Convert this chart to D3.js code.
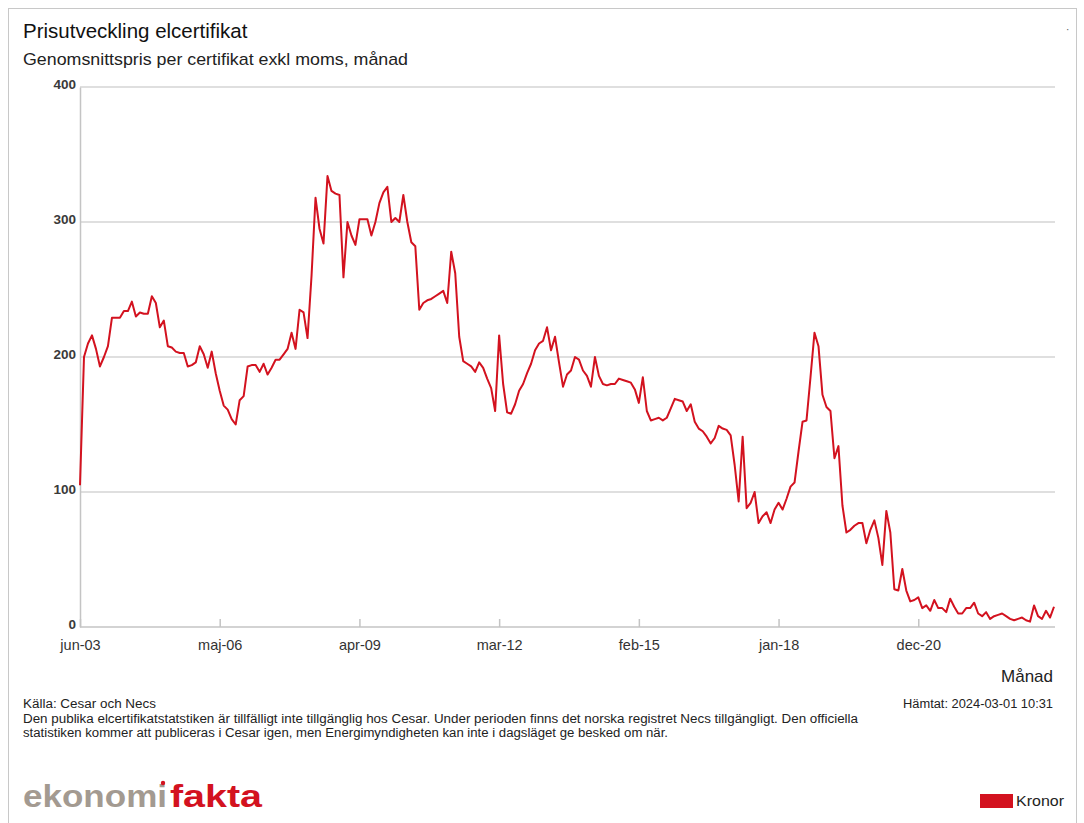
<!DOCTYPE html>
<html><head><meta charset="utf-8">
<script src="https://cdn.jsdelivr.net/npm/d3@7"></script>
<style>
html,body{margin:0;padding:0;background:#fff;}
svg{display:block;font-family:"Liberation Sans",Arial,sans-serif;}
</style></head><body>
<svg id="c" width="1084" height="823"></svg>
<script>
// Monthly average price (SEK), starting jun-03
const startYear = 2003, startMonth = 5; // June (0-based)
const prices = [
105,200,210,216,206,193,200,208,229,229,229,234,234,241,230,233,232,232,245,240,
222,227,208,207,204,203,203,193,194,196,208,202,192,204,188,175,164,161,154,150,
168,171,193,194,194,189,195,187,192,198,198,202,206,218,206,235,233,214,260,318,
295,284,334,323,321,320,259,300,290,283,302,302,302,290,300,314,322,326,300,303,
300,320,300,285,282,235,240,242,243,245,247,249,240,278,262,215,197,195,193,189,
196,192,184,177,160,216,180,159,158,165,175,180,188,195,205,210,212,222,205,215,
196,178,187,190,200,198,190,186,178,200,186,180,179,180,180,184,183,182,181,176,
166,185,160,153,154,155,153,155,162,169,168,167,160,165,152,147,145,141,136,140,
149,147,146,142,120,93,141,88,92,100,77,82,85,77,87,92,87,95,104,107,
130,152,153,185,218,208,172,163,160,125,134,90,70,72,75,77,77,62,72,79,
66,46,86,70,28,27,43,27,19,20,22,14,16,12,20,14,14,11,21,15,
10,10,14,14,18,10,8,11,6,8,9,10,8,6,5,6,7,5,4,16,
8,6,12,7,15
];
const monthNames = ["jan","feb","mar","apr","maj","jun","jul","aug","sep","okt","nov","dec"];
const xTickIdx = [0,35,70,105,140,175,210];
const yTicks = [0,100,200,300,400];

const labelOf = i => {
  const m = startMonth + i;
  const y = startYear + Math.floor(m/12);
  return monthNames[m%12] + "-" + String(y%100).padStart(2,"0");
};

const svg = d3.select("#c");
// outer frame
svg.append("rect").attr("x",8.5).attr("y",8.5).attr("width",1068).attr("height",830)
  .attr("fill","none").attr("stroke","#c8c8c8");

svg.append("text").attr("x",23).attr("y",38).attr("font-size",20.5).attr("fill","#111")
  .text("Prisutveckling elcertifikat");
svg.append("text").attr("x",23).attr("y",65).attr("font-size",17).attr("fill","#222")
  .attr("textLength",385).attr("lengthAdjust","spacingAndGlyphs")
  .text("Genomsnittspris per certifikat exkl moms, månad");
svg.append("text").attr("x",1066).attr("y",33).attr("font-size",10).attr("fill","#555").text("·");

const x = d3.scaleLinear().domain([0, prices.length-1]).range([80,1054]);
const y = d3.scaleLinear().domain([0,400]).range([627,87]);

// grid
const g = svg.append("g");
g.selectAll("line.grid").data(yTicks.filter(d=>d>0)).join("line")
  .attr("x1",80).attr("x2",1055).attr("y1",d=>y(d)).attr("y2",d=>y(d))
  .attr("stroke","#d4d4d4").attr("stroke-width",1.5);

// y axis
const yAxis = svg.append("g").attr("transform","translate(80,0)")
  .call(d3.axisLeft(y).tickValues(yTicks).tickSize(0).tickPadding(4));
yAxis.select(".domain").attr("stroke","#c4c4c4").attr("stroke-width",1.5);
yAxis.selectAll("text").attr("font-size",13.5).attr("font-weight","bold").attr("fill","#3a3a3a").attr("font-family","Liberation Sans, Arial").attr("dy","0.1em");

// x axis
const xAxis = svg.append("g").attr("transform","translate(0,627)")
  .call(d3.axisBottom(x).tickValues(xTickIdx).tickFormat(labelOf).tickSizeInner(-8).tickSizeOuter(0).tickPadding(13));
xAxis.select(".domain").attr("stroke","#c4c4c4").attr("stroke-width",1.5).attr("d","M80,0H1055");
xAxis.selectAll(".tick line").attr("stroke","#c4c4c4").attr("stroke-width",1.5);
xAxis.selectAll("text").attr("font-size",14.5).attr("fill","#333").attr("font-family","Liberation Sans, Arial");

// line
const line = d3.line().x((d,i)=>x(i)).y(d=>y(d));
svg.append("path").datum(prices).attr("d",line)
  .attr("fill","none").attr("stroke","#d3121f").attr("stroke-width",2).attr("stroke-linejoin","round");

svg.append("text").attr("x",1053).attr("y",682).attr("text-anchor","end").attr("font-size",17).attr("fill","#222").text("Månad");

const notes = [
 "Källa: Cesar och Necs",
 "Den publika elcertifikatstatstiken är tillfälligt inte tillgänglig hos Cesar. Under perioden finns det norska registret Necs tillgängligt. Den officiella",
 "statistiken kommer att publiceras i Cesar igen, men Energimyndigheten kan inte i dagsläget ge besked om när."
];
const noteLen = [133, 835, 645];
svg.selectAll("text.note").data(notes).join("text").attr("class","note")
  .attr("x",23).attr("y",(d,i)=>708+i*14.5).attr("font-size",12).attr("fill","#222")
  .attr("textLength",(d,i)=>noteLen[i]).attr("lengthAdjust","spacingAndGlyphs").text(d=>d);
svg.append("text").attr("x",903).attr("y",708).attr("font-size",12).attr("fill","#222")
  .attr("textLength",150).attr("lengthAdjust","spacingAndGlyphs").text("Hämtat: 2024-03-01 10:31");

// logo
svg.append("text").attr("x",23).attr("y",807).attr("font-size",31).attr("font-weight","bold")
  .attr("fill","#a39a91").attr("textLength",144).attr("lengthAdjust","spacingAndGlyphs").text("ekonomi");
svg.append("text").attr("x",170).attr("y",807).attr("font-size",31).attr("font-weight","bold")
  .attr("fill","#d3121f").attr("textLength",92).attr("lengthAdjust","spacingAndGlyphs").text("fakta");
svg.append("circle").attr("cx",163).attr("cy",783).attr("r",2.2).attr("fill","#d3121f");

// legend
svg.append("rect").attr("x",980).attr("y",794).attr("width",33).attr("height",14).attr("fill","#d3121f");
svg.append("text").attr("x",1016).attr("y",806).attr("font-size",14).attr("fill","#222")
  .attr("textLength",48).attr("lengthAdjust","spacingAndGlyphs").text("Kronor");
</script>
</body></html>
